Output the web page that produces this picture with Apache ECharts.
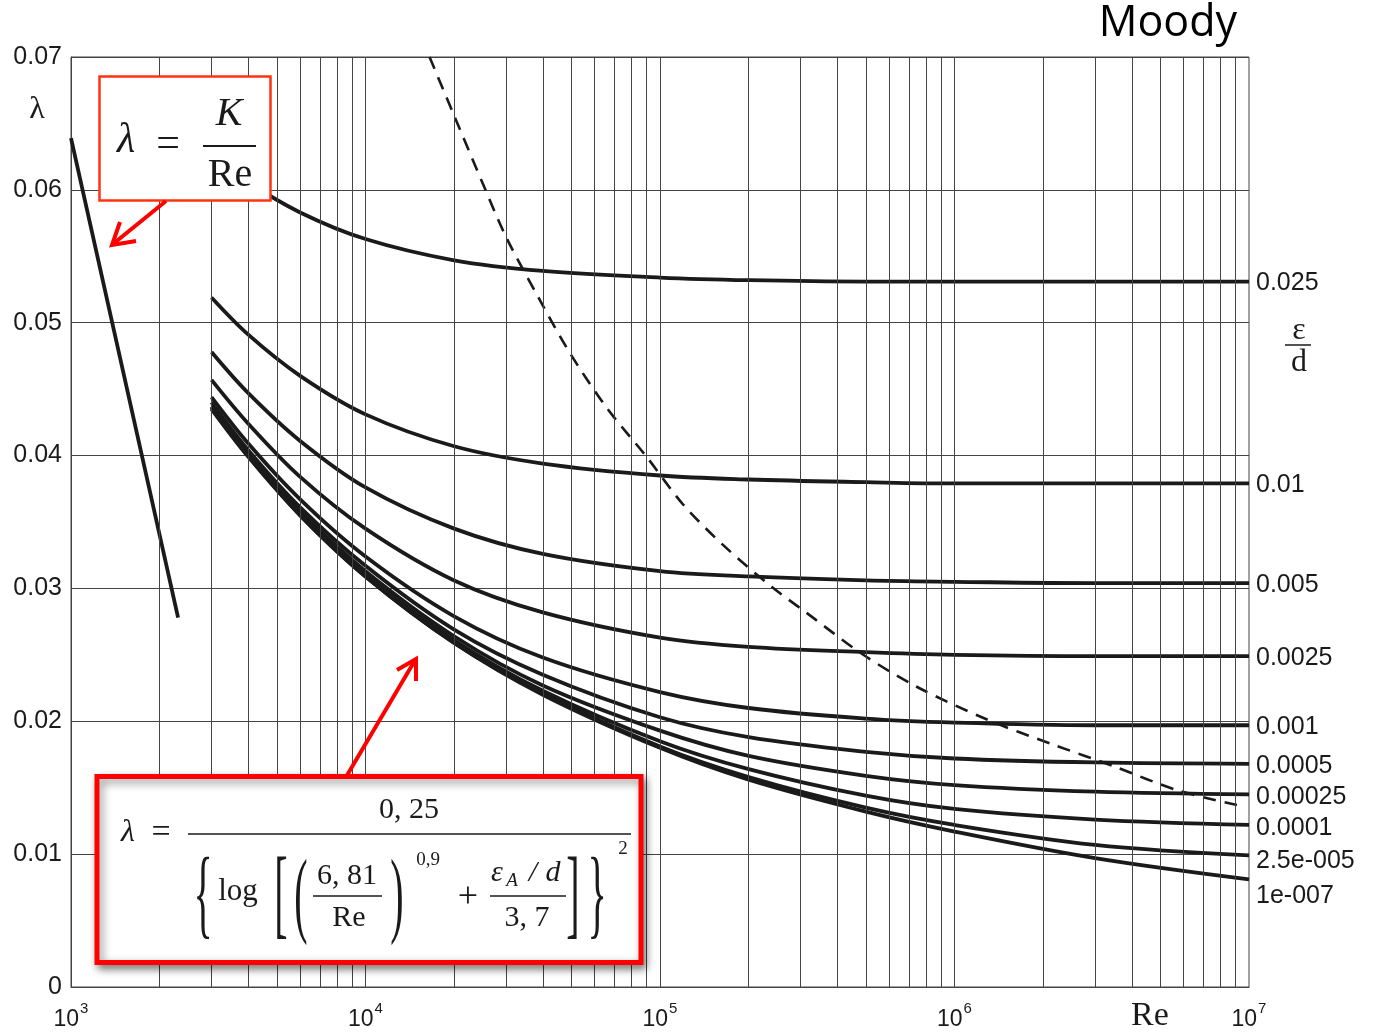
<!DOCTYPE html>
<html>
<head>
<meta charset="utf-8">
<title>Moody</title>
<script src="https://cdn.jsdelivr.net/npm/echarts@6/dist/echarts.min.js"></script>
<style>
  html, body { margin: 0; padding: 0; background: #fff; }
  #moody { width: 1375px; height: 1033px; }
</style>
</head>
<body>
<div id="moody"></div>
<script>
const reNums = [3000, 4000, 6000, 1e4, 2e4, 4e4, 1e5, 2e5, 5e5, 1e6, 3e6, 1e7];

// lambda for each relative roughness eps/d
const lam0025 = [0.0628, 0.0606, 0.0583, 0.0563, 0.0547, 0.0539, 0.0534, 0.0532, 0.0531, 0.0531, 0.0531, 0.0531];
const lam001 = [0.0519, 0.0491, 0.0460, 0.0431, 0.0407, 0.0394, 0.0385, 0.0382, 0.0380, 0.0379, 0.0379, 0.0379];
const lam0005 = [0.0478, 0.0447, 0.0411, 0.0376, 0.0345, 0.0326, 0.0313, 0.0309, 0.0306, 0.0305, 0.0304, 0.0304];
const lam00025 = [0.0457, 0.0424, 0.0384, 0.0345, 0.0306, 0.0282, 0.0263, 0.0256, 0.0252, 0.0250, 0.0249, 0.0249];
const lam0001 = [0.0444, 0.0409, 0.0367, 0.0324, 0.0279, 0.0248, 0.0222, 0.0210, 0.0202, 0.0199, 0.0197, 0.0197];
const lam00005 = [0.0440, 0.0404, 0.0361, 0.0317, 0.0269, 0.0235, 0.0203, 0.0188, 0.0177, 0.0172, 0.0169, 0.0168];
const lam000025 = [0.0437, 0.0402, 0.0358, 0.0313, 0.0264, 0.0227, 0.0193, 0.0174, 0.0159, 0.0152, 0.0147, 0.0145];
const lam00001 = [0.0436, 0.0400, 0.0356, 0.0310, 0.0261, 0.0223, 0.0185, 0.0164, 0.0144, 0.0134, 0.0126, 0.0122];
const lam25e5 = [0.0436, 0.0400, 0.0355, 0.0309, 0.0259, 0.0221, 0.0181, 0.0158, 0.0135, 0.0122, 0.0107, 0.0099];
const lam1e7 = [0.0435, 0.0399, 0.0355, 0.0309, 0.0259, 0.0220, 0.0180, 0.0156, 0.0132, 0.0117, 0.0097, 0.0081];

const roughness = ['0.025', '0.01', '0.005', '0.0025', '0.001', '0.0005', '0.00025', '0.0001', '2.5e-005', '1e-007'];
const curves = [lam0025, lam001, lam0005, lam00025, lam0001, lam00005, lam000025, lam00001, lam25e5, lam1e7];

// laminar line  lambda = K/Re
const laminarRe = [1000, 2310];
const laminarLam = [0.0639, 0.0278];

// dashed limit of the fully rough zone
const roughRe = [16500, 19900, 25100, 30100, 39100, 49500, 65900, 90100, 120000, 165000, 240000, 313000, 483000, 744000, 1.3e6, 2.13e6, 3.49e6, 5.72e6, 9.1e6];
const roughLam = [0.0700, 0.0657, 0.0604, 0.0564, 0.0517, 0.0477, 0.0436, 0.0399, 0.0363, 0.0332, 0.0301, 0.0282, 0.0251, 0.0226, 0.0201, 0.0183, 0.0166, 0.0148, 0.0137];

// vertical grid: 2..9 x 10^n plus the decades
const gridRe = [];
[1e3, 1e4, 1e5, 1e6].forEach(d => {
  for (let k = 2; k <= 9; k++) gridRe.push(k * d);
  if (d > 1e3) gridRe.push(d);
});

const SANS = '"Liberation Sans", Arial, sans-serif';
const SERIF = '"Liberation Serif", "Times New Roman", serif';
const INK = '#1a1a1a';
const GRID = '#444';

const zip = (xs, ys) => xs.map((x, i) => [x, ys[i]]);

// small offsets so the crowded end labels sit like in the original
const labelShift = [2, 2, 2, 2, 2, 2, 3, 3, 6, 17];

const curveSeries = curves.map((arr, i) => ({
  name: roughness[i],
  type: 'line',
  data: zip(reNums, arr),
  showSymbol: false,
  smooth: 0.35,
  silent: true,
  z: 4,
  lineStyle: {color: INK, width: 3.8},
  endLabel: {
    show: true,
    formatter: '{a}',
    color: INK,
    fontSize: 25,
    fontFamily: SANS,
    distance: 7,
    offset: [0, labelShift[i]],
  },
}));

function txt(x, y, text, font, extra) {
  return Object.assign({
    type: 'text',
    x: x,
    y: y,
    z: 102,
    silent: true,
    style: {
      text: text,
      font: font,
      fill: INK,
      align: 'center',
      verticalAlign: 'middle',
      textAlign: 'center',
      textVerticalAlign: 'middle',
    },
  }, extra || {});
}

function hline(x1, x2, y, w) {
  return {
    type: 'line', z: 102, silent: true,
    shape: {x1: x1, y1: y, x2: x2, y2: y},
    style: {stroke: INK, lineWidth: w || 1.5},
  };
}

function bigGlyph(x, y, ch, sy) {
  return txt(x, y, ch, '40px ' + SERIF, {scaleY: sy});
}

const redArrow = (pts, head) => [
  {type: 'polyline', z: 103, silent: true, shape: {points: pts}, style: {stroke: '#ff0000', lineWidth: 4, fill: null}},
  {type: 'polyline', z: 103, silent: true, shape: {points: head}, style: {stroke: '#ff0000', lineWidth: 4, fill: null, lineJoin: 'miter'}},
];

const graphics = [
  // title
  txt(1237, 24, 'Moody', '43px "Open Sans", ' + SANS, {style: {text: 'Moody', font: '43px "Open Sans", ' + SANS, fill: '#000', align: 'right', textAlign: 'right', verticalAlign: 'middle', textVerticalAlign: 'middle'}}),
  // axis names
  txt(37, 110, 'λ', '32px ' + SERIF),
  txt(1150, 1016, 'Re', '34px ' + SERIF),
  txt(1299, 331, 'ε', '32px ' + SERIF),
  hline(1285, 1311, 345, 1.5),
  txt(1299, 363, 'd', '32px ' + SERIF),

  // top box: lambda = K/Re
  {
    type: 'rect', z: 100, silent: true,
    shape: {x: 99.5, y: 76.5, width: 171, height: 124},
    style: {fill: '#fff', stroke: '#ff3311', lineWidth: 2.5},
  },
  txt(126, 141, 'λ', 'italic 42px ' + SERIF),
  txt(168, 145, '=', '42px ' + SERIF),
  txt(229, 114, 'K', 'italic 40px ' + SERIF),
  hline(203, 256, 146, 2),
  txt(230, 175, 'Re', '40px ' + SERIF),

  // bottom box: explicit turbulent formula
  {
    type: 'rect', z: 100, silent: true,
    shape: {x: 97, y: 776.5, width: 544, height: 186},
    style: {
      fill: '#fff', stroke: '#ff0000', lineWidth: 5,
      shadowBlur: 8, shadowColor: 'rgba(0,0,0,0.45)', shadowOffsetX: 3, shadowOffsetY: 4,
    },
  },
  txt(128, 833, 'λ', 'italic 32px ' + SERIF),
  txt(161, 833, '=', '34px ' + SERIF),
  txt(409, 810, '0, 25', '30px ' + SERIF),
  hline(188, 631, 834, 1.5),
  bigGlyph(203, 900, '{', 2.5),
  txt(238, 892, 'log', '31px ' + SERIF),
  bigGlyph(281, 900, '[', 2.5),
  bigGlyph(301, 900, '(', 2.4),
  txt(347, 876, '6, 81', '30px ' + SERIF),
  hline(313, 382, 896, 1.5),
  txt(349, 918, 'Re', '30px ' + SERIF),
  bigGlyph(397, 900, ')', 2.4),
  txt(428, 860, '0,9', '19px ' + SERIF),
  txt(468, 898, '+', '36px ' + SERIF),
  txt(497, 873, 'ε', 'italic 30px ' + SERIF),
  txt(512, 881, 'A', 'italic 19px ' + SERIF),
  txt(533, 873, '/', 'italic 30px ' + SERIF),
  txt(553, 873, 'd', 'italic 30px ' + SERIF),
  hline(490, 566, 896, 1.5),
  txt(527, 918, '3, 7', '30px ' + SERIF),
  bigGlyph(573, 900, ']', 2.5),
  bigGlyph(597, 900, '}', 2.5),
  txt(623, 849, '2', '19px ' + SERIF),
]
  .concat(redArrow([[166, 201], [113, 244]], [[136, 241], [112, 245], [120, 222]]))
  .concat(redArrow([[346, 777], [414, 662]], [[397, 670], [416, 659], [416, 681]]));

const option = {
  animation: false,
  backgroundColor: '#fff',
  grid: {
    left: 71, right: 126, top: 57, bottom: 46,
    show: true, borderColor: GRID, borderWidth: 1,
  },
  xAxis: {
    type: 'log',
    logBase: 10,
    min: 1000,
    max: 1e7,
    axisLine: {show: true, lineStyle: {color: GRID, width: 1}},
    axisTick: {show: false},
    splitLine: {show: false},
    axisLabel: {
      margin: 14,
      showMinLabel: true,
      showMaxLabel: true,
      formatter: v => '{b|10}{s|' + Math.round(Math.log10(v)) + '}',
      rich: {
        b: {fontSize: 23, fontFamily: SANS, color: INK, lineHeight: 30, verticalAlign: 'bottom'},
        s: {fontSize: 15, fontFamily: SANS, color: INK, lineHeight: 30, verticalAlign: 'top', padding: [0, 0, 0, 1]},
      },
    },
  },
  yAxis: {
    type: 'value',
    min: 0,
    max: 0.07,
    interval: 0.01,
    axisLine: {show: true, lineStyle: {color: GRID, width: 1}},
    axisTick: {show: false},
    splitLine: {show: true, lineStyle: {color: GRID, width: 1}},
    axisLabel: {
      margin: 9,
      fontSize: 25,
      fontFamily: SANS,
      color: INK,
      formatter: v => (v === 0 ? '0' : v.toFixed(2)),
    },
  },
  series: [
    {
      // carrier for the vertical log grid lines
      type: 'line',
      data: [[1000, 0]],
      showSymbol: false,
      silent: true,
      z: 1,
      lineStyle: {opacity: 0},
      markLine: {
        silent: true,
        symbol: ['none', 'none'],
        label: {show: false},
        lineStyle: {color: GRID, width: 1, type: 'solid'},
        emphasis: {disabled: true},
        data: gridRe.map(v => ({xAxis: v})),
      },
    },
    {
      name: 'laminar',
      type: 'line',
      data: zip(laminarRe, laminarLam),
      showSymbol: false,
      silent: true,
      z: 4,
      lineStyle: {color: INK, width: 3.8},
    },
    {
      name: 'rough limit',
      type: 'line',
      data: zip(roughRe, roughLam),
      showSymbol: false,
      smooth: 0.3,
      silent: true,
      z: 3,
      lineStyle: {color: INK, width: 2.6, type: [13, 9]},
    },
  ].concat(curveSeries),
  graphic: graphics,
};

const chart = echarts.init(document.getElementById('moody'), null, {renderer: 'canvas'});
chart.setOption(option);
</script>
</body>
</html>
